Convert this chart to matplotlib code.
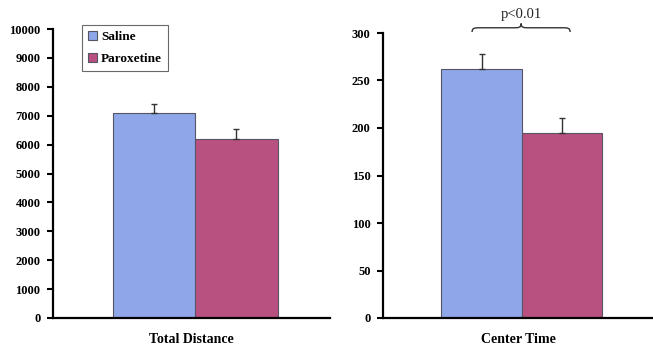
import matplotlib
matplotlib.use("Agg")
import matplotlib.pyplot as plt
from matplotlib.path import Path
from matplotlib.patches import PathPatch
import numpy as np

groups = ["Saline", "Paroxetine"]
panels = ["Total Distance", "Center Time"]
total_distance = [7100, 6200]
total_distance_err = [300, 330]
center_time = [262, 195]
center_time_err = [16, 16]
td_ticks = [0, 1000, 2000, 3000, 4000, 5000, 6000, 7000, 8000, 9000, 10000]
ct_ticks = [0, 50, 100, 150, 200, 250, 300]
sig_label = "p<0.01"

colors = ["#8FA7E9", "#B8517F"]
serif = ["Liberation Serif", "DejaVu Serif"]

fig = plt.figure(figsize=(6.53, 3.52), dpi=100)
ax1 = fig.add_axes([53/653, 1-318/352, (330-53)/653, (318-29)/352])
ax2 = fig.add_axes([383/653, 1-318/352, (653-383)/653, (318-33)/352])

xpos = [0.365, 0.662]
width = 0.297

def style(ax, vals, errs, ticks, label):
    for i in range(2):
        ax.bar(xpos[i], vals[i], width=width, color=colors[i], edgecolor="#555566",
               linewidth=0.8, label=groups[i], zorder=2)
        ax.errorbar(xpos[i], vals[i], yerr=[[0], [errs[i]]], fmt="none",
                    ecolor="#333333", elinewidth=1.0, capsize=2.5, capthick=1.0, zorder=3)
    ax.set_xlim(0, 1)
    ax.set_ylim(ticks[0], ticks[-1])
    ax.set_yticks(ticks)
    ax.set_yticklabels([str(t) for t in ticks], fontfamily=serif, fontweight="bold", fontsize=9)
    ax.set_xticks([])
    ax.spines["top"].set_visible(False)
    ax.spines["right"].set_visible(False)
    ax.spines["left"].set_linewidth(1.6)
    ax.spines["bottom"].set_linewidth(1.6)
    ax.tick_params(axis="y", direction="out", length=4, width=1.5, pad=5)
    ax.set_xlabel(label, fontfamily=serif, fontweight="bold", fontsize=10, labelpad=11)

style(ax1, total_distance, total_distance_err, td_ticks, panels[0])
style(ax2, center_time, center_time_err, ct_ticks, panels[1])

leg = ax1.legend(loc="upper left", bbox_to_anchor=(0.105, 1.015),
                 prop={"family": serif, "size": 9.5, "weight": "semibold"},
                 fancybox=False, edgecolor="#444444", handlelength=0.7, handleheight=0.7,
                 handletextpad=0.3, borderpad=0.45, labelspacing=0.75, borderaxespad=0)
leg.get_frame().set_linewidth(0.8)

# curly brace above right panel bars
x0, x1 = 0.33, 0.693
xm = (x0 + x1) / 2
yb, yt = 301, 310
ymid = (yb + yt) / 2
d = 0.03
verts = [(x0, yb), (x0, ymid), (x0 + d * 0.3, ymid), (x0 + d, ymid),
         (xm - d, ymid),
         (xm - d * 0.3, ymid), (xm, ymid), (xm, yt),
         (xm, ymid), (xm + d * 0.3, ymid), (xm + d, ymid),
         (x1 - d, ymid),
         (x1 - d * 0.3, ymid), (x1, ymid), (x1, yb)]
codes = [Path.MOVETO, Path.CURVE4, Path.CURVE4, Path.CURVE4,
         Path.LINETO,
         Path.CURVE4, Path.CURVE4, Path.CURVE4,
         Path.CURVE4, Path.CURVE4, Path.CURVE4,
         Path.LINETO,
         Path.CURVE4, Path.CURVE4, Path.CURVE4]
ax2.add_patch(PathPatch(Path(verts, codes), facecolor="none", edgecolor="#333333",
                        linewidth=1.0, clip_on=False))
ax2.text(xm, 313, sig_label, ha="center", va="bottom", fontfamily=serif, fontsize=10.5,
         color="#222222", clip_on=False)

fig.savefig("out.png", dpi=100)
